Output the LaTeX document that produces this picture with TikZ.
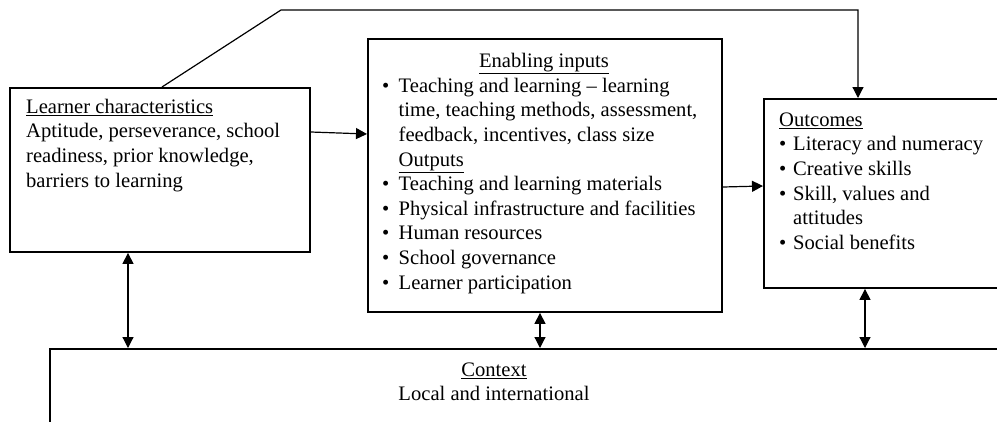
\documentclass[tikz,border=0pt]{standalone}
\usepackage{fontspec}
\setmainfont{Liberation Serif}
\usetikzlibrary{arrows.meta,calc}
\tikzset{
  box/.style={draw, line width=1.9pt, rectangle, inner sep=0pt, anchor=north west},
  txt/.style={anchor=north west, inner sep=0pt, align=left, font=\fontsize{20.6}{24.6}\selectfont},
  ctxt/.style={anchor=north, inner sep=0pt, align=center, font=\fontsize{20.6}{24.6}\selectfont},
  tip/.tip={Triangle[length=11pt,width=11pt]},
  conn/.style={line width=1.2pt, -tip},
  dconn/.style={line width=1.2pt, tip-tip},
}
\newcommand\bitem[1][16.5pt]{\makebox[#1][l]{\textbullet}}
\newcommand\bind[1][16.5pt]{\hspace*{#1}}
\begin{document}
\begin{tikzpicture}[x=1pt,y=-1pt]
\clip (0,0) rectangle (997,421);
% boxes
\node[box, minimum width=300pt, minimum height=164pt] (learner) at (9,87) {};
\node[box, minimum width=354pt, minimum height=273pt] (enabling) at (367,38) {};
\node[box, minimum width=260pt, minimum height=189pt] (outcomes) at (763,98) {};
\node[box, minimum width=1000pt, minimum height=120pt] (context) at (49,348) {};
% texts
\node[txt] (learnertext) at (26,95.8) {\strut\underline{Learner characteristics}\\
Aptitude, perseverance, school\\
readiness, prior knowledge,\\
barriers to learning};
\node[anchor=base, inner sep=0pt, font=\fontsize{20.6}{24.6}\selectfont] (enablinghead) at (544,67) {\underline{Enabling inputs}};
\node[txt] (enablingtext) at (382,74.8) {\strut\bitem Teaching and learning -- learning\\
\bind time, teaching methods, assessment,\\
\bind feedback, incentives, class size\\
\bind\underline{Outputs}\\
\bitem Teaching and learning materials\\
\bitem Physical infrastructure and facilities\\
\bitem Human resources\\
\bitem School governance\\
\bitem Learner participation};
\node[txt] (outcomestext) at (779,108.8) {\strut\underline{Outcomes}\\
\bitem[14pt]Literacy and numeracy\\
\bitem[14pt]Creative skills\\
\bitem[14pt]Skill, values and\\
\bind[14pt]attitudes\\
\bitem[14pt]Social benefits};
\node[ctxt] (contexttext) at (494,358.8) {\strut\underline{Context}\\Local and international};
% connectors
\coordinate (bendA) at (281,10);
\coordinate (bendB) at (858,10);
\draw[conn] ($(learner.north west)+(153,0)$) -- (bendA) -- (bendB) -- (bendB |- outcomes.north);
\draw[conn] ($(learner.north east)+(0,45)$) -- ($(enabling.north west)+(0,96)$);
\draw[conn] ($(enabling.north east)+(0,149)$) -- ($(outcomes.north west)+(0,88)$);
\draw[dconn] ($(learner.south west)+(119,0)$) coordinate (la) -- (la |- context.north);
\draw[dconn] ($(enabling.south west)+(173,0)$) coordinate (ea) -- (ea |- context.north);
\draw[dconn] ($(outcomes.south west)+(102,0)$) coordinate (oa) -- (oa |- context.north);
\end{tikzpicture}
\end{document}
